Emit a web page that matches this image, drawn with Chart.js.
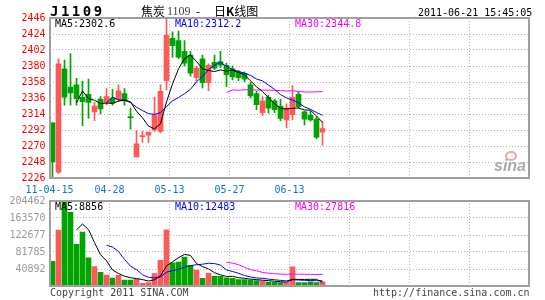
<!DOCTYPE html>
<html>
<head>
<meta charset="utf-8">
<script src="https://cdn.jsdelivr.net/npm/chart.js@4.4.0/dist/chart.umd.min.js"></script>
<style>
body { margin: 0; background: #fff; }
#wrap { position: relative; width: 545px; height: 300px; overflow: hidden; font-family: "DejaVu Sans Mono", monospace; font-size: 10px; }
canvas { position: absolute; left: 0; top: 0; }
.t { position: absolute; white-space: nowrap; line-height: 10px; }
</style>
</head>
<body>
<div id="wrap">
  <canvas id="kline" width="545" height="300"></canvas>
  <canvas id="vol" width="545" height="300"></canvas>

  <div class="t" style="left:50px;top:4px;font-size:14px;line-height:14px;font-weight:bold;letter-spacing:2.5px;">J1109</div>
  <div class="t" style="left:141px;top:5px;font-family:'Noto Sans CJK SC';font-size:12px;line-height:12px;">焦炭</div>
  <div class="t" style="left:167px;top:5px;font-family:'Liberation Serif';font-size:12px;line-height:12px;color:#444;">1109</div>
  <div class="t" style="left:196px;top:5px;font-family:'Noto Sans CJK SC';font-size:12px;line-height:12px;">-</div>
  <div class="t" style="left:214px;top:5px;font-family:'Noto Sans CJK SC';font-size:12px;line-height:12px;">日<b>K</b>线图</div>
  <div class="t" style="left:418px;top:8px;">2011-06-21 15:45:05</div>

  <div class="t" style="left:55px;top:19px;color:#000;">MA5:2302.6</div>
  <div class="t" style="left:175px;top:19px;color:#0000ff;">MA10:2312.2</div>
  <div class="t" style="left:295px;top:19px;color:#ff00ff;">MA30:2344.8</div>

  <div class="t" style="left:55px;top:202px;color:#000;">MA5:8856</div>
  <div class="t" style="left:175px;top:202px;color:#0000ff;">MA10:12483</div>
  <div class="t" style="left:295px;top:202px;color:#ff00ff;">MA30:27816</div>

  <div class="t" style="left:505px;top:151px;width:8px;height:6px;border:2px solid #f9a0a8;border-radius:50%;"></div>
  <div class="t" style="left:494px;top:158px;font-family:'Liberation Sans';font-size:16px;line-height:16px;font-style:italic;font-weight:bold;color:#aaa;">sina</div>

  <div class="t" style="left:50px;top:288px;color:#444;">Copyright 2011 SINA.COM</div>
  <div class="t" style="left:373px;top:288px;color:#444;">http://finance.sina.com.cn</div>
</div>

<script>
// J1109 daily candles, 2011-04-15 .. 2011-06-21
const dates = ["04-15","04-18","04-19","04-20","04-21","04-22","04-25","04-26","04-27","04-28",
  "04-29","05-03","05-04","05-05","05-06","05-09","05-10","05-11","05-12","05-13",
  "05-16","05-17","05-18","05-19","05-20","05-23","05-24","05-25","05-26","05-27",
  "05-30","05-31","06-01","06-02","06-03","06-07","06-08","06-09","06-10","06-13",
  "06-14","06-15","06-16","06-17","06-20","06-21"];

const openP = [2302,2234,2376,2351,2354,2337,2341,2317,2334,2330,
  2336,2334,2342,2310,2255,2283,2285,2292,2290,2360,
  2418,2415,2400,2395,2364,2390,2357,2385,2386,2381,
  2376,2372,2370,2354,2342,2316,2337,2332,2325,2306,
  2313,2341,2317,2312,2307,2289];
const highP = [2302,2390,2388,2397,2363,2359,2362,2330,2338,2349,
  2348,2354,2349,2322,2291,2290,2289,2337,2354,2446,
  2427,2428,2415,2400,2380,2395,2383,2395,2400,2384,
  2380,2374,2372,2358,2345,2338,2340,2334,2334,2328,
  2353,2344,2318,2318,2310,2304];
const lowP = [2227,2232,2326,2326,2326,2298,2308,2305,2314,2326,
  2326,2331,2326,2293,2255,2275,2275,2290,2288,2347,
  2392,2390,2380,2366,2360,2350,2346,2375,2378,2352,
  2361,2360,2358,2336,2320,2312,2315,2316,2305,2295,
  2306,2322,2299,2304,2280,2271];
const closeP = [2248,2383,2337,2343,2335,2331,2330,2325,2321,2338,
  2329,2346,2332,2309,2273,2284,2289,2313,2345,2422,
  2408,2392,2384,2370,2377,2357,2381,2377,2381,2368,
  2365,2364,2362,2339,2327,2332,2322,2320,2308,2322,
  2337,2324,2307,2306,2282,2294];

const ma5P = [null,null,null,null,2329.2,2345.8,2335.2,2332.8,2328.4,2329.0,
  2328.6,2331.8,2333.2,2330.8,2317.8,2308.8,2297.4,2293.6,2300.8,2330.6,
  2355.4,2376.0,2390.2,2395.2,2386.2,2376.0,2373.8,2372.4,2374.6,2372.8,
  2374.4,2371.0,2368.0,2359.6,2351.4,2344.8,2336.4,2328.0,2321.8,2320.8,
  2321.8,2322.2,2319.6,2319.2,2311.2,2302.6];
const ma10P = [null,null,null,null,null,null,null,null,null,2329.1,
  2337.2,2333.5,2333.0,2329.6,2323.4,2318.7,2314.6,2313.4,2315.8,2324.2,
  2332.1,2336.7,2341.9,2348.0,2358.4,2365.7,2374.9,2381.3,2384.9,2379.5,
  2375.2,2372.4,2370.2,2367.1,2362.1,2359.6,2353.7,2348.0,2340.7,2336.1,
  2333.3,2329.3,2323.8,2320.5,2316.0,2312.2];
const ma30P = [null,null,null,null,null,null,null,null,null,null,
  null,null,null,null,null,null,null,null,null,null,
  null,null,null,null,null,null,null,null,null,2343.5,
  2347.2,2346.6,2347.4,2347.2,2347.0,2347.0,2346.7,2346.6,2346.1,2345.6,
  2345.9,2345.1,2344.3,2344.2,2344.5,2344.8];

const volume = [59600,134500,204462,177000,100500,129500,67500,47000,33000,26000,
  19000,25500,14500,14500,16000,6500,8000,30000,62000,135000,
  56000,57500,69500,49500,38000,18500,30500,23500,23500,19500,
  18500,15500,15500,14000,13150,12000,9500,8800,8200,8000,
  46050,8000,8500,10000,8000,9780];
const ma5V = [null,null,null,null,135212,149192,135792,104300,75500,60600,
  38500,30100,23600,19900,17900,15400,11900,15000,24500,48300,
  58200,68100,76000,73500,54100,46600,41200,32000,26800,23100,
  23100,20100,18500,16600,15330,14030,12830,11490,10330,9300,
  16110,15810,15750,16110,16110,8856];
const ma10V = [null,null,null,null,null,null,null,null,null,97906,
  93846,82946,63950,47700,39250,26950,21000,19300,22200,33100,
  36800,40000,45500,49000,51200,52400,54650,54000,50150,38600,
  34850,30650,25250,21700,19215,18565,16465,14995,13465,12315,
  15070,14320,13620,13220,12705,12483];
const ma30V = [null,null,null,null,null,null,null,null,null,null,
  null,null,null,null,null,null,null,null,null,null,
  null,null,null,null,null,null,null,null,null,56535,
  55165,51199,44900,39467,36555,32638,30705,29432,28605,28005,
  28907,28323,28123,27973,27707,27816];

const priceTicks = [2226,2248,2270,2292,2314,2336,2358,2380,2402,2424,2446];
const volTicks = [0,40892,81785,122677,163570,204462];
const dateTicks = ["11-04-15","04-28","05-13","05-27","06-13"];

const RED = "#ff5858", GREEN = "#00a400";
const GRID = "#b4b4b4";
const SLOTS = 80;
const slots = dates.concat(new Array(SLOTS - dates.length).fill(""));
const upColor = c => closeP[c.dataIndex] >= openP[c.dataIndex] ? RED : GREEN;
const monoFont = { family: "DejaVu Sans Mono", size: 10 };

const frame = {
  id: "frame",
  afterDatasetsDraw(chart) {
    const a = chart.chartArea, ctx = chart.ctx;
    ctx.save();
    ctx.strokeStyle = "#a0a0a0";
    ctx.lineWidth = 2;
    ctx.strokeRect(Math.round(a.left), Math.round(a.top), Math.round(a.right - a.left) - 1, Math.round(a.bottom - a.top));
    ctx.restore();
  }
};

// vertical dotted grid every 10 slots, also carries the date labels
function gridAxis(showLabels) {
  return {
    type: "linear", position: "bottom", min: 0, max: 8, offset: false,
    afterBuildTicks: s => { s.ticks = [0,1,2,3,4,5,6,7,8].map(v => ({ value: v })); },
    afterFit: s => { s.height = showLabels ? 22 : 0; },
    grid: { color: GRID, lineWidth: 1, drawTicks: false, offset: false },
    border: { display: false, dash: [1, 2] },
    ticks: { display: showLabels, autoSkip: false, maxRotation: 0, padding: 6, color: "#0a78c8", font: monoFont,
      callback: v => dateTicks[v] || "" }
  };
}

const line = (data, color) => ({ type: "line", data, borderColor: color, borderWidth: 1, pointRadius: 0, tension: 0, order: 0, spanGaps: false });

new Chart(document.getElementById("kline"), {
  type: "bar",
  data: {
    labels: slots,
    datasets: [
      { data: lowP.map((l, i) => [l, highP[i]]), backgroundColor: upColor, barThickness: 1, grouped: false, order: 2 },
      { data: openP.map((o, i) => [o, closeP[i]]), backgroundColor: upColor, barThickness: 5, minBarLength: 1, grouped: false, order: 1 },
      line(ma5P, "#000000"),
      line(ma10P, "#0000ff"),
      line(ma30P, "#ff00ff")
    ]
  },
  options: {
    responsive: false, animation: false,
    layout: { padding: { left: 0, right: 15.5, top: 18, bottom: 100 } },
    plugins: { legend: { display: false }, tooltip: { enabled: false } },
    scales: {
      x: { type: "category", display: false, offset: true },
      xg: gridAxis(true),
      y: {
        min: 2226, max: 2446,
        afterBuildTicks: s => { s.ticks = priceTicks.map(v => ({ value: v })); },
        afterFit: s => { s.width = 49.5; },
        grid: { color: GRID, lineWidth: 1, drawTicks: false },
        border: { display: false, dash: [1, 2] },
        ticks: { color: "#ff0000", font: monoFont, padding: 4, callback: v => String(v) }
      }
    }
  },
  plugins: [frame]
});

new Chart(document.getElementById("vol"), {
  type: "bar",
  data: {
    labels: slots,
    datasets: [
      { data: volume, backgroundColor: upColor, barThickness: 5, grouped: false, order: 1 },
      line(ma5V, "#000000"),
      line(ma10V, "#0000ff"),
      line(ma30V, "#ff00ff")
    ]
  },
  options: {
    responsive: false, animation: false,
    layout: { padding: { left: 0, right: 15.5, top: 201, bottom: 14 } },
    plugins: { legend: { display: false }, tooltip: { enabled: false } },
    scales: {
      x: { type: "category", display: false, offset: true },
      xg: gridAxis(false),
      y: {
        min: 0, max: 204462,
        afterBuildTicks: s => { s.ticks = volTicks.map(v => ({ value: v })); },
        afterFit: s => { s.width = 49.5; },
        grid: { color: GRID, lineWidth: 1, drawTicks: false },
        border: { display: false, dash: [1, 2] },
        ticks: { color: "#999999", font: monoFont, padding: 4, callback: v => v === 0 ? "" : String(v) }
      }
    }
  },
  plugins: [frame]
});
</script>
</body>
</html>
